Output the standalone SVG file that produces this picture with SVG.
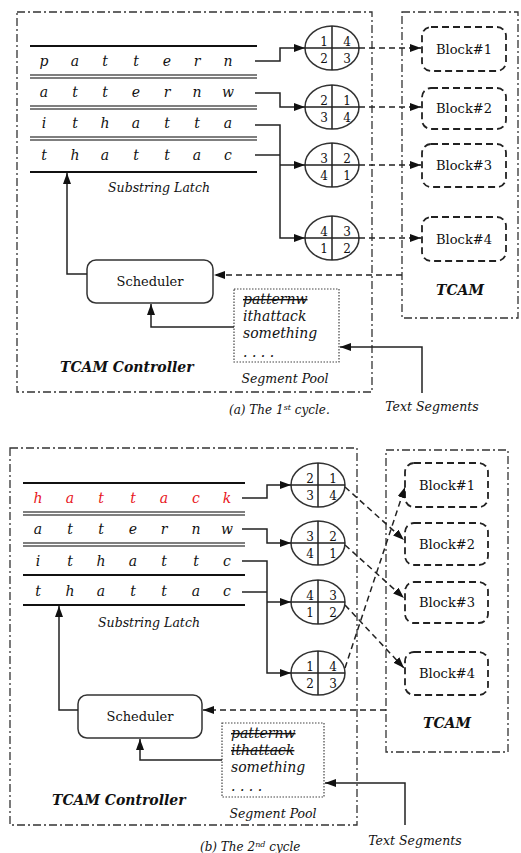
<svg xmlns="http://www.w3.org/2000/svg" width="521" height="853" viewBox="0 0 521 853">
<style>
text{font-family:"DejaVu Serif","Liberation Serif",serif;fill:#111}
.it{font-style:italic}
.bi{font-style:italic;font-weight:bold;font-size:14px}
.row{font-style:italic;font-size:14px;text-anchor:middle}
.red{fill:#e8141b}
.num{font-size:12px;text-anchor:middle}
.blk{font-size:13px;text-anchor:middle}
.dd{fill:none;stroke:#333;stroke-width:1.3;stroke-dasharray:8,3,2,3}
.blkbox{fill:#fff;stroke:#222;stroke-width:1.8;stroke-dasharray:7,4}
.ln{stroke:#111;stroke-width:1.8;fill:none}
.dbl{stroke:#555;stroke-width:1.4}
.solid{fill:none;stroke:#222;stroke-width:1.5}
.dash{fill:none;stroke:#222;stroke-width:1.5;stroke-dasharray:6,4}
.circ{fill:#fff;stroke:#333;stroke-width:1.5}
.pool{fill:#fff;stroke:#444;stroke-width:1.2;stroke-dasharray:1.5,1.5}
.pt{font-style:italic;font-size:14px}
.st{text-decoration:line-through}
</style>
<defs>
<marker id="ah" markerUnits="userSpaceOnUse" markerWidth="11" markerHeight="8" refX="11" refY="4" orient="auto">
<path d="M0,0 L11,4 L0,8 z" fill="#111"/>
</marker>
</defs>

<!-- ===== Panel (a) ===== -->
<g id="a-controller"><rect class="dd" x="17" y="12" width="355" height="380"/><text class="bi" x="60" y="372">TCAM Controller</text></g>
<g id="a-tcam"><rect class="dd" x="402" y="12" width="116" height="306"/><text class="bi" x="460" y="295" text-anchor="middle">TCAM</text></g>

<g id="a-latch">
<line class="ln" x1="30" y1="46" x2="257" y2="46"/>
<line class="dbl" x1="30" y1="75" x2="257" y2="75"/><line class="dbl" x1="30" y1="78" x2="257" y2="78"/>
<line class="dbl" x1="30" y1="106" x2="257" y2="106"/><line class="dbl" x1="30" y1="109" x2="257" y2="109"/>
<line class="dbl" x1="30" y1="137" x2="257" y2="137"/><line class="dbl" x1="30" y1="140" x2="257" y2="140"/>
<line class="ln" x1="30" y1="172" x2="257" y2="172"/>
<g class="row">
<text x="44" y="66">p</text><text x="75" y="66">a</text><text x="105" y="66">t</text><text x="136" y="66">t</text><text x="167" y="66">e</text><text x="197" y="66">r</text><text x="228" y="66">n</text>
<text x="44" y="97">a</text><text x="75" y="97">t</text><text x="105" y="97">t</text><text x="136" y="97">e</text><text x="167" y="97">r</text><text x="197" y="97">n</text><text x="228" y="97">w</text>
<text x="44" y="128">i</text><text x="75" y="128">t</text><text x="105" y="128">h</text><text x="136" y="128">a</text><text x="167" y="128">t</text><text x="197" y="128">t</text><text x="228" y="128">a</text>
<text x="44" y="160">t</text><text x="75" y="160">h</text><text x="105" y="160">a</text><text x="136" y="160">t</text><text x="167" y="160">t</text><text x="197" y="160">a</text><text x="228" y="160">c</text>
</g>
<text class="it" x="159" y="192" font-size="12.5" text-anchor="middle">Substring Latch</text>
</g>

<g id="a-circle1"><ellipse class="circ" cx="332" cy="48" rx="27" ry="22"/><path class="solid" d="M332,26V70M305,48H359"/><text class="num" x="324" y="46">1</text><text class="num" x="347" y="46">4</text><text class="num" x="324" y="63">2</text><text class="num" x="347" y="63">3</text></g>
<g id="a-circle2"><ellipse class="circ" cx="332" cy="107" rx="27" ry="22"/><path class="solid" d="M332,85V129M305,107H359"/><text class="num" x="324" y="105">2</text><text class="num" x="347" y="105">1</text><text class="num" x="324" y="122">3</text><text class="num" x="347" y="122">4</text></g>
<g id="a-circle3"><ellipse class="circ" cx="332" cy="165" rx="27" ry="22"/><path class="solid" d="M332,143V187M305,165H359"/><text class="num" x="324" y="163">3</text><text class="num" x="347" y="163">2</text><text class="num" x="324" y="180">4</text><text class="num" x="347" y="180">1</text></g>
<g id="a-circle4"><ellipse class="circ" cx="332" cy="238" rx="27" ry="22"/><path class="solid" d="M332,216V260M305,238H359"/><text class="num" x="324" y="236">4</text><text class="num" x="347" y="236">3</text><text class="num" x="324" y="253">1</text><text class="num" x="347" y="253">2</text></g>

<g id="a-block1"><rect class="blkbox" x="422" y="27" width="84" height="44" rx="9"/><text class="blk" x="464" y="54">Block#1</text></g>
<g id="a-block2"><rect class="blkbox" x="422" y="88" width="84" height="41" rx="9"/><text class="blk" x="464" y="113">Block#2</text></g>
<g id="a-block3"><rect class="blkbox" x="422" y="144" width="84" height="43" rx="9"/><text class="blk" x="464" y="170">Block#3</text></g>
<g id="a-block4"><rect class="blkbox" x="422" y="217" width="84" height="44" rx="9"/><text class="blk" x="464" y="244">Block#4</text></g>

<g id="a-scheduler"><rect x="87" y="260" width="126" height="43" rx="9" fill="#fff" stroke="#333" stroke-width="1.5"/><text x="150" y="286" font-size="13" text-anchor="middle">Scheduler</text></g>

<g id="a-pool"><rect class="pool" x="234" y="289" width="105" height="73"/>
<text class="pt st" x="243" y="304">patternw</text>
<text class="pt" x="243" y="321">ithattack</text>
<text class="pt" x="243" y="338">something</text>
<text class="pt" x="243" y="357">. . . .</text>
<text class="it" x="285" y="383" font-size="12.5" text-anchor="middle">Segment Pool</text></g>

<g id="a-labels">
<text class="it" x="432" y="411" font-size="12.5" text-anchor="middle">Text Segments</text>
<text class="it" x="229" y="414" font-size="12">(a) The 1<tspan font-size="8" dy="-4">st</tspan><tspan dy="4"> cycle.</tspan></text>
</g>

<g id="a-connectors">
<path class="solid" d="M255,61H280V48H305" marker-end="url(#ah)"/>
<path class="solid" d="M255,93H280V107H305" marker-end="url(#ah)"/>
<path class="solid" d="M255,125H280V238H305" marker-end="url(#ah)"/>
<path class="solid" d="M255,155H280"/>
<path class="solid" d="M280,165H305" marker-end="url(#ah)"/>
<path class="dash" d="M359,48H421" marker-end="url(#ah)"/>
<path class="dash" d="M359,107H421" marker-end="url(#ah)"/>
<path class="dash" d="M359,165H421" marker-end="url(#ah)"/>
<path class="dash" d="M359,238H421" marker-end="url(#ah)"/>
<path class="solid" d="M87,274H67V173" marker-end="url(#ah)"/>
<path class="solid" d="M234,327H151V304" marker-end="url(#ah)"/>
<path class="dash" d="M402,275H214" marker-end="url(#ah)"/>
<path class="solid" d="M422,393V347H340" marker-end="url(#ah)"/>
</g>

<!-- ===== Panel (b) ===== -->
<g id="b-controller"><rect class="dd" x="10" y="448" width="347" height="377"/><text class="bi" x="52" y="805">TCAM Controller</text></g>
<g id="b-tcam"><rect class="dd" x="386" y="450" width="122" height="302"/><text class="bi" x="447" y="728" text-anchor="middle">TCAM</text></g>

<g id="b-latch">
<line class="ln" x1="23" y1="483" x2="245" y2="483"/>
<line class="dbl" x1="23" y1="512" x2="245" y2="512"/><line class="dbl" x1="23" y1="515" x2="245" y2="515"/>
<line class="dbl" x1="23" y1="543" x2="245" y2="543"/><line class="dbl" x1="23" y1="546" x2="245" y2="546"/>
<line class="ln" x1="23" y1="575" x2="245" y2="575"/>
<line class="ln" x1="23" y1="605" x2="245" y2="605"/>
<g class="row">
<text class="red" x="38" y="503">h</text><text class="red" x="70" y="503">a</text><text class="red" x="101" y="503">t</text><text class="red" x="133" y="503">t</text><text class="red" x="164" y="503">a</text><text class="red" x="196" y="503">c</text><text class="red" x="227" y="503">k</text>
<text x="38" y="534">a</text><text x="70" y="534">t</text><text x="101" y="534">t</text><text x="133" y="534">e</text><text x="164" y="534">r</text><text x="196" y="534">n</text><text x="227" y="534">w</text>
<text x="38" y="566">i</text><text x="70" y="566">t</text><text x="101" y="566">h</text><text x="133" y="566">a</text><text x="164" y="566">t</text><text x="196" y="566">t</text><text x="227" y="566">c</text>
<text x="38" y="596">t</text><text x="70" y="596">h</text><text x="101" y="596">a</text><text x="133" y="596">t</text><text x="164" y="596">t</text><text x="196" y="596">a</text><text x="227" y="596">c</text>
</g>
<text class="it" x="149" y="627" font-size="12.5" text-anchor="middle">Substring Latch</text>
</g>

<g id="b-circle1"><ellipse class="circ" cx="318" cy="485" rx="27" ry="22"/><path class="solid" d="M318,463V507M291,485H345"/><text class="num" x="310" y="483">2</text><text class="num" x="333" y="483">1</text><text class="num" x="310" y="500">3</text><text class="num" x="333" y="500">4</text></g>
<g id="b-circle2"><ellipse class="circ" cx="318" cy="543" rx="27" ry="22"/><path class="solid" d="M318,521V565M291,543H345"/><text class="num" x="310" y="541">3</text><text class="num" x="333" y="541">2</text><text class="num" x="310" y="558">4</text><text class="num" x="333" y="558">1</text></g>
<g id="b-circle3"><ellipse class="circ" cx="318" cy="602" rx="27" ry="22"/><path class="solid" d="M318,580V624M291,602H345"/><text class="num" x="310" y="600">4</text><text class="num" x="333" y="600">3</text><text class="num" x="310" y="617">1</text><text class="num" x="333" y="617">2</text></g>
<g id="b-circle4"><ellipse class="circ" cx="318" cy="673" rx="27" ry="22"/><path class="solid" d="M318,651V695M291,673H345"/><text class="num" x="310" y="671">1</text><text class="num" x="333" y="671">4</text><text class="num" x="310" y="688">2</text><text class="num" x="333" y="688">3</text></g>

<g id="b-block1"><rect class="blkbox" x="405" y="463" width="83" height="44" rx="9"/><text class="blk" x="447" y="490">Block#1</text></g>
<g id="b-block2"><rect class="blkbox" x="405" y="523" width="83" height="42" rx="9"/><text class="blk" x="447" y="549">Block#2</text></g>
<g id="b-block3"><rect class="blkbox" x="405" y="582" width="83" height="41" rx="9"/><text class="blk" x="447" y="607">Block#3</text></g>
<g id="b-block4"><rect class="blkbox" x="405" y="652" width="83" height="43" rx="9"/><text class="blk" x="447" y="678">Block#4</text></g>

<g id="b-scheduler"><rect x="78" y="695" width="124" height="43" rx="9" fill="#fff" stroke="#333" stroke-width="1.5"/><text x="140" y="721" font-size="13" text-anchor="middle">Scheduler</text></g>

<g id="b-pool"><rect class="pool" x="222" y="723" width="102" height="74"/>
<text class="pt st" x="231" y="738">patternw</text>
<text class="pt st" x="231" y="755">ithattack</text>
<text class="pt" x="231" y="772">something</text>
<text class="pt" x="231" y="791">. . . .</text>
<text class="it" x="273" y="818" font-size="12.5" text-anchor="middle">Segment Pool</text></g>

<g id="b-labels">
<text class="it" x="415" y="845" font-size="12.5" text-anchor="middle">Text Segments</text>
<text class="it" x="200" y="851" font-size="12">(b) The 2<tspan font-size="8" dy="-4">nd</tspan><tspan dy="4"> cycle</tspan></text>
</g>

<g id="b-connectors">
<path class="solid" d="M242,498H267V485H291" marker-end="url(#ah)"/>
<path class="solid" d="M242,529H267V543H291" marker-end="url(#ah)"/>
<path class="solid" d="M242,561H267V673H291" marker-end="url(#ah)"/>
<path class="solid" d="M242,592H267"/>
<path class="solid" d="M267,602H291" marker-end="url(#ah)"/>
<path class="dash" d="M345,487L404,540" marker-end="url(#ah)"/>
<path class="dash" d="M345,545L404,598" marker-end="url(#ah)"/>
<path class="dash" d="M345,605L404,668" marker-end="url(#ah)"/>
<path class="dash" d="M345,668L405,487" marker-end="url(#ah)"/>
<path class="solid" d="M78,710H59V606" marker-end="url(#ah)"/>
<path class="solid" d="M222,760H140V739" marker-end="url(#ah)"/>
<path class="dash" d="M386,710H203" marker-end="url(#ah)"/>
<path class="solid" d="M405,825V783H325" marker-end="url(#ah)"/>
</g>
</svg>
